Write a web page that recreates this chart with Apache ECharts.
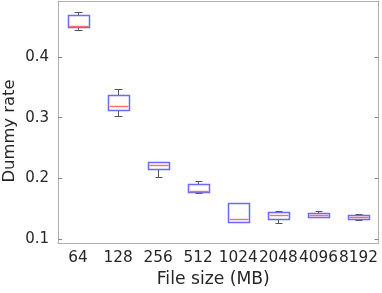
<!DOCTYPE html>
<html>
<head>
<meta charset="utf-8">
<script src="https://cdn.jsdelivr.net/npm/echarts@6/dist/echarts.min.js"></script>
<style>html,body{margin:0;padding:0;background:#fff;}#c{width:382px;height:293px;}</style>
</head>
<body>
<div id="c"></div>
<script>
const categories = ['64','128','256','512','1024','2048','4096','8192'];
const whiskerLow  = [0.444, 0.303, 0.202, 0.176, 0.1285, 0.126, 0.1358, 0.131];
const boxLow      = [0.449, 0.313, 0.2154, 0.177, 0.1285, 0.1325, 0.1368, 0.133];
const medians     = [0.451, 0.319, 0.2215, 0.179, 0.133, 0.1396, 0.140, 0.1363];
const boxHigh     = [0.469, 0.338, 0.2264, 0.190, 0.1588, 0.144, 0.1434, 0.140];
const whiskerHigh = [0.474, 0.348, 0.227, 0.1956, 0.1588, 0.1457, 0.1462, 0.1417];
const yTicks = [0.1, 0.2, 0.3, 0.4];

const data = categories.map((c, i) => [i, whiskerLow[i], boxLow[i], medians[i], boxHigh[i], whiskerHigh[i]]);

const axisColor = '#b0b0b0';
const font = 'DejaVu Sans, sans-serif';
const chart = echarts.init(document.getElementById('c'));

function px(v){ return Math.round(v) + 0.5; }

chart.setOption({
  animation: false,
  grid: {left: 58, right: 3.5, top: 1, bottom: 50, containLabel: false, outerBoundsMode: 'none'},
  xAxis: [{
    type: 'category', data: categories, position: 'bottom',
    name: 'File size (MB)', nameLocation: 'middle', nameGap: 28,
    nameTextStyle: {fontFamily: font, fontSize: 17.2, color: '#262626', padding: [0, 10, 0, 0]},
    axisLine: {lineStyle: {color: axisColor, width: 1}},
    axisTick: {inside: true, alignWithLabel: true, length: 4, lineStyle: {color: '#888'}},
    axisLabel: {fontFamily: font, fontSize: 15.3, color: '#262626', margin: 8, interval: 0, hideOverlap: false},
    splitLine: {show: false}
  }, {
    type: 'category', data: categories, position: 'top',
    axisLine: {lineStyle: {color: axisColor, width: 1}},
    axisTick: {inside: true, alignWithLabel: true, length: 4, lineStyle: {color: '#888'}},
    axisLabel: {show: false}, splitLine: {show: false}
  }],
  yAxis: [{
    type: 'value', min: 0.0934, max: 0.4923, position: 'left',
    name: 'Dummy rate', nameLocation: 'middle', nameGap: 40, nameMoveOverlap: false,
    nameTextStyle: {fontFamily: font, fontSize: 16.4, color: '#262626', padding: [0, 18, 0, 0]},
    axisLine: {show: true, lineStyle: {color: axisColor, width: 1}},
    axisTick: {show: true, inside: true, length: 4, customValues: yTicks, lineStyle: {color: '#888'}},
    axisLabel: {fontFamily: font, fontSize: 15, color: '#262626', margin: 9, customValues: yTicks,
      formatter: v => String(Math.round(v * 10) / 10)},
    splitLine: {show: false}
  }, {
    type: 'value', min: 0.0934, max: 0.4923, position: 'right',
    axisLine: {show: true, lineStyle: {color: axisColor, width: 1}},
    axisTick: {show: true, inside: true, length: 4, customValues: yTicks, lineStyle: {color: '#888'}},
    axisLabel: {show: false}, splitLine: {show: false}
  }],
  series: [{
    type: 'custom',
    xAxisIndex: 0, yAxisIndex: 0,
    data: data,
    encode: {x: 0, y: [1, 2, 3, 4, 5]},
    renderItem: function (params, api) {
      const idx = api.value(0);
      const band = api.size([1, 0])[0];
      const cx = api.coord([idx, 0])[0];
      const y = k => api.coord([idx, api.value(k)])[1];
      const wl = y(1), bl = y(2), md = y(3), bh = y(4), wh = y(5);
      const bw = band * 0.52, cw = band * 0.18;
      const xc = px(cx);
      const wStyle = {stroke: '#555', lineWidth: 1, fill: null};
      const children = [
        {type: 'line', shape: {x1: xc, y1: px(wh), x2: xc, y2: px(bh)}, style: wStyle},
        {type: 'line', shape: {x1: xc, y1: px(bl), x2: xc, y2: px(wl)}, style: wStyle},
        {type: 'line', shape: {x1: px(cx - cw / 2), y1: px(wh), x2: px(cx + cw / 2), y2: px(wh)}, style: wStyle},
        {type: 'line', shape: {x1: px(cx - cw / 2), y1: px(wl), x2: px(cx + cw / 2), y2: px(wl)}, style: wStyle},
        {type: 'rect', shape: {x: px(cx - bw / 2), y: px(bh), width: Math.round(bw), height: Math.max(0, Math.round(bl) - Math.round(bh))},
          style: {stroke: '#6a6aff', lineWidth: 1.5, fill: null}},
        {type: 'line', shape: {x1: px(cx - bw / 2) + 1, y1: px(md), x2: px(cx - bw / 2) + Math.round(bw) - 1, y2: px(md)},
          style: {stroke: '#ff6a6a', lineWidth: 1.4}}
      ];
      return {type: 'group', children: children};
    }
  }]
});
</script>
</body>
</html>
